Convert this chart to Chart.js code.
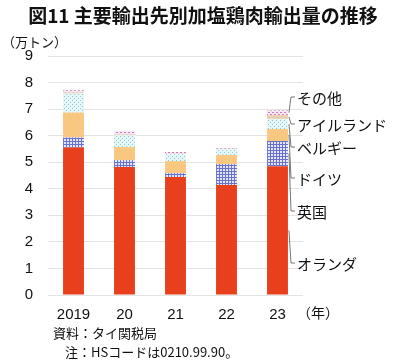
<!DOCTYPE html>
<html><head><meta charset="utf-8">
<script src="https://cdn.jsdelivr.net/npm/chart.js@4.4.1/dist/chart.umd.min.js"></script>
<style>
html,body{margin:0;padding:0;background:#fff;}
#wrap{position:relative;width:400px;height:364px;overflow:hidden;font-family:"Noto Sans CJK JP","Liberation Sans",sans-serif;color:#111;}
#c{position:absolute;left:0;top:0;}
.t{position:absolute;white-space:nowrap;}
</style></head><body>
<div id="wrap">
<canvas id="c" width="400" height="364"></canvas>
<div class="t" style="left:0;width:406px;text-align:center;top:1px;font-size:19px;font-weight:bold;">図11 主要輸出先別加塩鶏肉輸出量の推移</div>
<div class="t" style="left:2px;top:32px;font-size:13px;">（万トン）</div>
<div class="t" style="left:297px;top:302px;font-size:14px;">（年）</div>
<div class="t" style="left:53px;top:323px;font-size:13px;">資料：タイ関税局</div>
<div class="t" style="left:65px;top:342px;font-size:13px;">注：HSコードは0210.99.90。</div>
</div>
<script>
const categories = ["2019", "20", "21", "22", "23"];
const seriesNames = ["オランダ", "英国", "ドイツ", "ベルギー", "アイルランド", "その他"];
const netherlands = [5.55, 4.82, 4.44, 4.14, 4.85];
const uk          = [0.38, 0.26, 0.15, 0.79, 0.95];
const germany     = [0.94, 0.49, 0.45, 0.34, 0.45];
const belgium     = [0.72, 0.45, 0.26, 0.22, 0.38];
const ireland     = [0.04, 0.03, 0.02, 0.02, 0.15];
const others      = [0.08, 0.12, 0.07, 0.03, 0.17];
const yTicks = [0,1,2,3,4,5,6,7,8,9];
const labelY = [263, 211, 178, 147, 124, 97];

function pat(w, h, bg, draw){
  const c = document.createElement('canvas'); c.width=w; c.height=h;
  const x = c.getContext('2d'); x.fillStyle=bg; x.fillRect(0,0,w,h); draw(x);
  return x.createPattern(c,'repeat');
}
const checkP = pat(3,3,'#e4e6f8',x=>{x.fillStyle='#6672cc';x.fillRect(0,0,3,1);x.fillRect(0,0,1,3);});
const dotBlue = pat(4,4,'#e6f6f6',x=>{x.fillStyle='#8ccad2';x.fillRect(0,0,1,1);x.fillRect(2,2,1,1);});
const dotPink = pat(4,4,'#f6e6f2',x=>{x.fillStyle='#c27ec0';x.fillRect(0,0,2,1);x.fillRect(2,2,2,1);});
const beige = pat(4,4,'#ead2b6',x=>{x.fillStyle='#d8b898';x.fillRect(1,1,1,1);});

const fills = ['#e8401c', checkP, '#f9c880', dotBlue, beige, dotPink];
const values = [netherlands, uk, germany, belgium, ireland, others];

const leader = {
  id:'leader',
  afterDatasetsDraw(chart){
    const c = chart.ctx;
    c.save();
    c.font = '15px "Noto Sans CJK JP", sans-serif';
    c.textBaseline = 'middle';
    c.fillStyle = '#111';
    const lx = 297;
    for(let i=0;i<seriesNames.length;i++){
      const el = chart.getDatasetMeta(i).data[categories.length-1];
      const ax = el.x + el.width/2 + 1;
      const ay = (el.y + el.base)/2;
      c.strokeStyle = '#777'; c.lineWidth = 1;
      c.beginPath();
      c.moveTo(ax, ay);
      c.lineTo(lx-6, labelY[i]);
      c.lineTo(lx-2, labelY[i]);
      c.stroke();
      c.fillText(seriesNames[i], lx, labelY[i]+1);
    }
    c.restore();
  }
};

new Chart(document.getElementById('c'), {
  type:'bar',
  data:{
    labels: categories,
    datasets: values.map((v,i)=>({
      label: seriesNames[i], data: v, backgroundColor: fills[i],
      borderWidth: 0, barPercentage: 0.41, categoryPercentage: 1.0
    }))
  },
  options:{
    responsive:false, animation:false,
    layout:{padding:{top:56,right:97,bottom:39,left:0}},
    plugins:{legend:{display:false},tooltip:{enabled:false}},
    scales:{
      x:{stacked:true,
        grid:{display:false}, border:{display:false},
        ticks:{color:'#111',padding:3,font:{size:15,family:'"Liberation Sans", Arial, sans-serif'}},
        afterFit(s){s.height=30;}
      },
      y:{stacked:true,min:0,max:9,
        afterBuildTicks(s){s.ticks = yTicks.map(v=>({value:v}));},
        grid:{color:'#e4e4e4',drawTicks:false}, border:{display:false},
        ticks:{color:'#111',padding:15,font:{size:15,family:'"Liberation Sans", Arial, sans-serif'}},
        afterFit(s){s.width=48;}
      }
    }
  },
  plugins:[leader]
});
</script>
</body></html>
